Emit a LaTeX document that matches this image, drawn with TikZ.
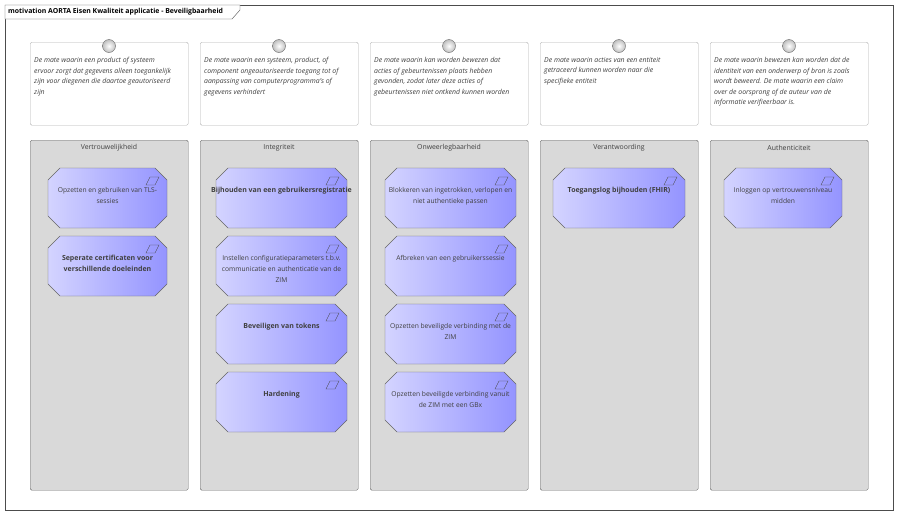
\documentclass[tikz,border=0pt]{standalone}
\usepackage{fontspec}
\setmainfont{Open Sans}
\begin{document}
\begin{tikzpicture}[x=1pt,y=-1pt,
  desc/.style={draw=black!30,fill=white,rounded corners=1.5pt,minimum width=158pt,minimum height=83pt,anchor=north west,inner sep=0pt},
  dtext/.style={anchor=north west,font=\fontsize{6.9}{10.6}\selectfont\itshape,text=black!75,align=left,inner sep=0pt},
  cont/.style={draw=black!60,fill=black!15,rounded corners=1.5pt,minimum width=158pt,minimum height=350pt,anchor=north west,inner sep=0pt},
  ctitle/.style={font=\fontsize{6.9}{8}\selectfont,text=black!75},
  elem/.style={draw=black!60,left color=blue!17,right color=blue!42},
  etext/.style={font=\fontsize{6.7}{11}\selectfont,text=black!75,align=center,anchor=north,inner sep=0pt},
  btext/.style={etext,font=\fontsize{7}{11}\selectfont\bfseries},
  knob/.style={circle,draw=black!60,inner color=white,outer color=black!25,minimum size=13pt,inner sep=0pt}]
\useasboundingbox (0,0) rectangle (900,515);
\fill[white] (0,0) rectangle (900,515);
\draw[black!70] (5,5) rectangle (893,510);
\draw[black!70,fill=white] (5,5) -- (240,5) -- (240,10) -- (232,19) -- (5,19) -- cycle;
\node[anchor=west,font=\fontsize{6.9}{8}\selectfont\bfseries,inner sep=0pt] (title) at (8,12) {motivation AORTA Eisen Kwaliteit applicatie - Beveiligbaarheid};
\foreach \i/\x/\t in {1/30/{De mate waarin een product of systeem\\ervoor zorgt dat gegevens alleen toegankelijk\\zijn voor diegenen die daartoe geautoriseerd\\zijn},
 2/200/{De mate waarin een systeem, product, of\\component ongeautoriseerde toegang tot of\\aanpassing van computerprogramma's of\\gegevens verhindert},
 3/370/{De mate waarin kan worden bewezen dat\\acties of gebeurtenissen plaats hebben\\gevonden, zodat later deze acties of\\gebeurtenissen niet ontkend kunnen worden},
 4/540/{De mate waarin acties van een entiteit\\getraceerd kunnen worden naar die\\specifieke entiteit},
 5/710/{De mate waarin bewezen kan worden dat de\\identiteit van een onderwerp of bron is zoals\\wordt beweerd.  De mate waarin een claim\\over de oorsprong of de auteur van de\\informatie verifieerbaar is.}}{
  \node[desc] (d\i) at (\x,42) {};
  \node[knob] (k\i) at (\x+79,46) {};
  \node[dtext] (dt\i) at (\x+4,57) {\t};
}
\foreach \i/\x/\t in {1/30/Vertrouwelijkheid,2/200/Integriteit,3/370/Onweerlegbaarheid,4/540/Verantwoording,5/710/Authenticiteit}{
  \node[cont] (c\i) at (\x,140) {};
  \node[ctitle] (ct\i) at (\x+79,148) {\t};
}
\foreach \n/\x/\y/\w/\s/\t in {
 e11/48/168/119/etext/{Opzetten en gebruiken van TLS-\\sessies},
 e12/48/236/119/btext/{Seperate certificaten voor\\verschillende doeleinden},
 e21/216/168/131/btext/{Bijhouden van een gebruikersregistratie},
 e22/216/236/131/etext/{Instellen configuratieparameters t.b.v.\\communicatie en authenticatie van de\\ZIM},
 e23/216/304/131/btext/{Beveiligen van tokens},
 e24/216/372/131/btext/{Hardening},
 e31/385/168/131/etext/{Blokkeren van ingetrokken, verlopen en\\niet authentieke passen},
 e32/385/236/131/etext/{Afbreken van een gebruikerssessie},
 e33/385/304/131/etext/{Opzetten beveiligde verbinding met de\\ZIM},
 e34/385/372/131/etext/{Opzetten beveiligde verbinding vanuit\\de ZIM met een GBx},
 e41/553/168/132/btext/{Toegangslog bijhouden (FHIR)},
 e51/724/168/118/etext/{Inloggen op vertrouwensniveau\\midden}}{
  \path[elem] (\x+12,\y) -- (\x+\w-12,\y) -- (\x+\w,\y+12) -- (\x+\w,\y+48) -- (\x+\w-12,\y+60) -- (\x+12,\y+60) -- (\x,\y+48) -- (\x,\y+12) -- cycle;
  \draw[black!70] (\x+\w-21,\y+17) -- (\x+\w-17,\y+9) -- (\x+\w-8,\y+9) -- (\x+\w-12,\y+17) -- cycle;
  \node[\s] (\n) at (\x+\w/2,\y+19) {\t};
}
\end{tikzpicture}
\end{document}
